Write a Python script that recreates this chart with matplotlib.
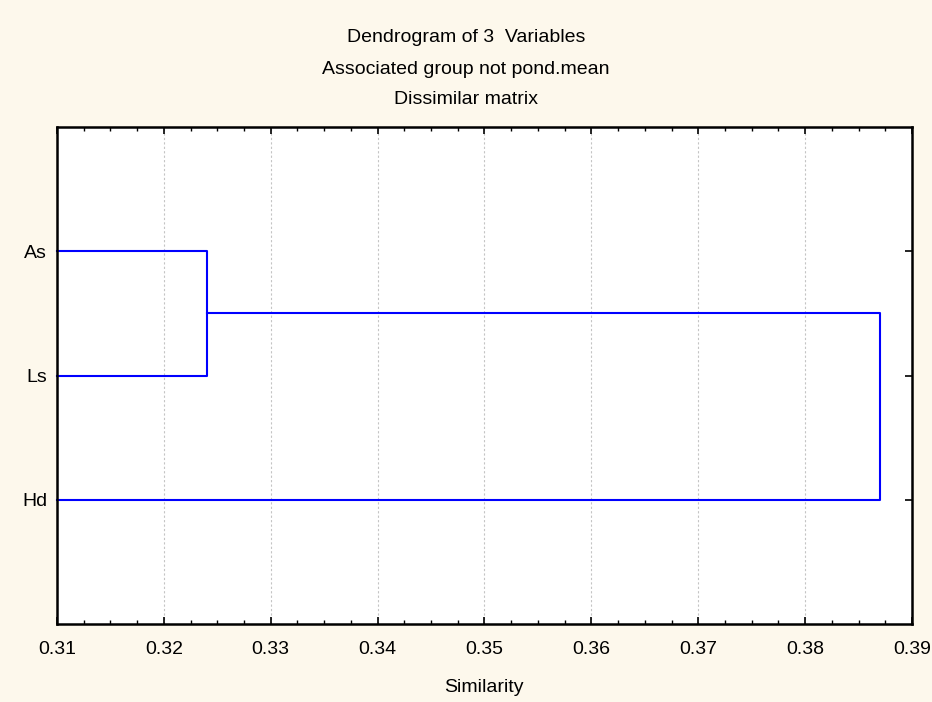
import matplotlib
matplotlib.use("Agg")
import matplotlib.pyplot as plt
from matplotlib.ticker import MultipleLocator

plt.rcParams['font.family'] = ['Liberation Sans', 'DejaVu Sans']

labels = ["As", "Ls", "Hd"]
merge1_height = 0.324   # As + Ls
merge2_height = 0.387   # (As, Ls) + Hd
xmin, xmax = 0.31, 0.39
xticks = [0.31, 0.32, 0.33, 0.34, 0.35, 0.36, 0.37, 0.38, 0.39]

fig = plt.figure(figsize=(9.32, 7.02), dpi=100)
bg = '#FDF8EC'
fig.patch.set_facecolor(bg)
ax = fig.add_axes([57/932, 1-624/702, (912-57)/932, (624-127)/702])
ax.set_facecolor('white')

pos = {lab: i + 1 for i, lab in enumerate(labels)}
col = '#0000FF'
lw = 1.5
ya, yl = pos["As"], pos["Ls"]
ax.plot([xmin, merge1_height, merge1_height, xmin], [ya, ya, yl, yl], color=col, lw=lw, clip_on=False)
ymid = (ya + yl) / 2
yh = pos["Hd"]
ax.plot([merge1_height, merge2_height, merge2_height, xmin], [ymid, ymid, yh, yh], color=col, lw=lw, clip_on=False)

ax.set_xlim(xmin, xmax)
ax.set_ylim(4, 0)
ax.set_xticks(xticks)
ax.set_xticklabels([f"{t:.2f}" for t in xticks])
ax.xaxis.set_minor_locator(MultipleLocator(0.0025))
ax.set_yticks([1, 2, 3])
ax.set_yticklabels(labels)
fs = 14
ax.tick_params(axis='both', which='both', direction='in', top=True, right=True, labelsize=fs, colors='black')
ax.tick_params(axis='x', which='major', length=5, width=1.2, pad=12)
ax.tick_params(axis='x', which='minor', length=3, width=1)
ax.tick_params(axis='y', which='major', length=5, width=1.2, pad=7)
ax.grid(axis='x', which='major', color='#C4C4C4', linestyle=(0, (2, 2)), linewidth=0.8)
ax.set_axisbelow(True)
for s in ax.spines.values():
    s.set_linewidth(1.8)
    s.set_color('black')

fig.text(0.5, 1-37/702, "Dendrogram of 3  Variables", ha='center', va='center', fontsize=fs)
fig.text(0.5, 1-69/702, "Associated group not pond.mean", ha='center', va='center', fontsize=fs)
fig.text(0.5, 1-100/702, "Dissimilar matrix", ha='center', va='center', fontsize=fs)
fig.text(484/932, 1-687/702, "Similarity", ha='center', va='center', fontsize=fs)

fig.savefig("out.png", dpi=100, facecolor=bg)
